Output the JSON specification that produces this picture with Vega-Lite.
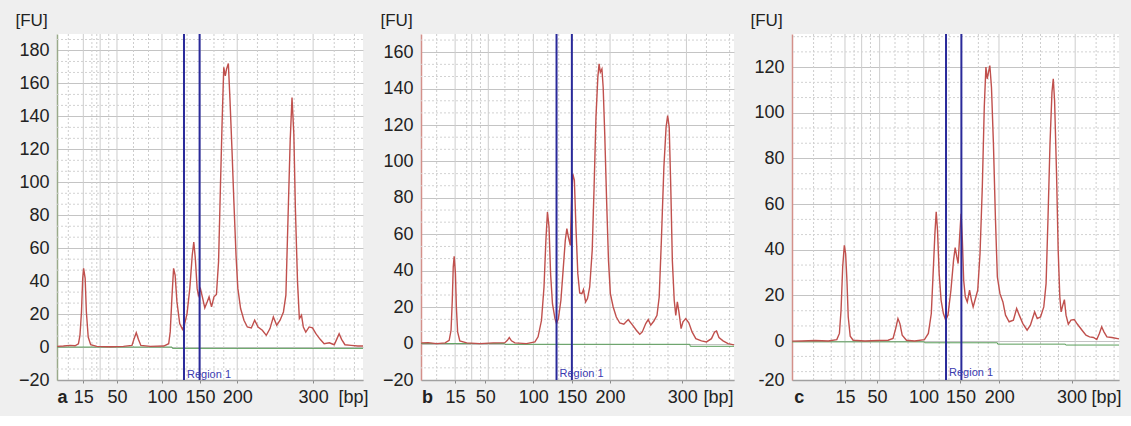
{
"$schema": "https://vega.github.io/schema/vega-lite/v6.json",
"background": "#efefef",
"padding": {"left": 15, "top": 11, "right": 12, "bottom": 10},
"bounds": "flush",
"spacing": 58,
"config": {
  "view": {"fill": "#ffffff", "stroke": null},
  "font": "Liberation Sans",
  "axis": {"labelFont": "Liberation Sans", "labelFontSize": 18, "labelColor": "#222222", "titleFont": "Liberation Sans", "labelOverlap": false, "labelFlush": false, "labelBound": false},
  "axisY": {"labelOverlap": false}
},
"datasets": {
  "ygrid": [{"fu":-13.33},{"fu":-6.67},{"fu":6.67},{"fu":13.33},{"fu":26.67},{"fu":33.33},{"fu":46.67},{"fu":53.33},{"fu":66.67},{"fu":73.33},{"fu":86.67},{"fu":93.33},{"fu":106.67},{"fu":113.33},{"fu":126.67},{"fu":133.33},{"fu":146.67},{"fu":153.33},{"fu":166.67},{"fu":173.33},{"fu":186.67}],
  "vgrid_a": [{"t":8.6,"s":"solid"},{"t":14.1,"s":"solid"},{"t":19.6,"s":"solid"},{"t":34.3,"s":"solid"},{"t":46.7,"s":"solid"},{"t":58.9,"s":"solid"},{"t":83.7,"s":"solid"},{"t":3.7,"s":"dot"},{"t":11.4,"s":"dot"},{"t":13.0,"s":"dot"},{"t":16.9,"s":"dot"},{"t":25.0,"s":"dot"},{"t":29.9,"s":"dot"},{"t":39.2,"s":"dot"},{"t":42.5,"s":"dot"},{"t":51.3,"s":"dot"},{"t":54.5,"s":"dot"},{"t":65.5,"s":"dot"},{"t":72.0,"s":"dot"},{"t":77.5,"s":"dot"},{"t":90.6,"s":"dot"},{"t":97.2,"s":"dot"}],
  "vgrid_b": [{"t":10.9,"s":"solid"},{"t":16.2,"s":"solid"},{"t":21.5,"s":"solid"},{"t":35.9,"s":"solid"},{"t":48.2,"s":"solid"},{"t":60.4,"s":"solid"},{"t":84.8,"s":"solid"},{"t":5.0,"s":"dot"},{"t":14.6,"s":"dot"},{"t":19.0,"s":"dot"},{"t":26.8,"s":"dot"},{"t":31.1,"s":"dot"},{"t":40.5,"s":"dot"},{"t":44.0,"s":"dot"},{"t":52.3,"s":"dot"},{"t":56.0,"s":"dot"},{"t":67.8,"s":"dot"},{"t":73.1,"s":"dot"},{"t":78.9,"s":"dot"},{"t":91.2,"s":"dot"},{"t":98.6,"s":"dot"}],
  "vgrid_c": [{"t":16.2,"s":"solid"},{"t":21.3,"s":"solid"},{"t":26.8,"s":"solid"},{"t":40.3,"s":"solid"},{"t":51.8,"s":"solid"},{"t":63.3,"s":"solid"},{"t":86.6,"s":"solid"},{"t":6.6,"s":"dot"},{"t":12.0,"s":"dot"},{"t":19.0,"s":"dot"},{"t":24.0,"s":"dot"},{"t":31.5,"s":"dot"},{"t":35.5,"s":"dot"},{"t":45.0,"s":"dot"},{"t":48.0,"s":"dot"},{"t":57.0,"s":"dot"},{"t":60.0,"s":"dot"},{"t":70.5,"s":"dot"},{"t":76.0,"s":"dot"},{"t":81.5,"s":"dot"},{"t":93.0,"s":"dot"},{"t":98.5,"s":"dot"}],
  "region_a": [{"t":41.5,"label":"Region 1"},{"t":46.6,"label":""}],
  "region_b": [{"t":43.3,"label":"Region 1"},{"t":48.2,"label":""}],
  "region_c": [{"t":47.1,"label":"Region 1"},{"t":51.8,"label":""}],
  "base_a": [{"t":0,"fu":0},{"t":37.6,"fu":0},{"t":37.7,"fu":-0.8},{"t":100,"fu":-0.8}],
  "base_b": [{"t":0,"fu":0},{"t":26.7,"fu":0},{"t":26.8,"fu":-0.4},{"t":85.9,"fu":-0.4},{"t":86.0,"fu":-1.5},{"t":100,"fu":-1.5}],
  "base_c": [{"t":0,"fu":-0.3},{"t":40.5,"fu":-0.3},{"t":40.6,"fu":-0.7},{"t":62.8,"fu":-0.7},{"t":62.9,"fu":-1.3},{"t":83.6,"fu":-1.3},{"t":83.7,"fu":-1.7},{"t":100,"fu":-1.7}],
  "trace_a": [{"t":0.1,"fu":0.4},{"t":2.1,"fu":0.6},{"t":4.3,"fu":1.0},{"t":5.9,"fu":0.8},{"t":7.0,"fu":2.0},{"t":7.5,"fu":7.1},{"t":8.0,"fu":21.3},{"t":8.4,"fu":41.7},{"t":8.7,"fu":47.8},{"t":9.2,"fu":41.7},{"t":9.6,"fu":21.3},{"t":10.2,"fu":6.1},{"t":11.0,"fu":1.4},{"t":13.0,"fu":0.4},{"t":17.4,"fu":0.2},{"t":21.7,"fu":0.4},{"t":24.5,"fu":1.0},{"t":25.2,"fu":5.1},{"t":25.9,"fu":8.7},{"t":26.6,"fu":4.7},{"t":27.4,"fu":1.0},{"t":30.5,"fu":0.4},{"t":34.9,"fu":0.6},{"t":36.5,"fu":2.0},{"t":37.0,"fu":9.2},{"t":37.6,"fu":31.5},{"t":38.1,"fu":47.8},{"t":38.6,"fu":43.7},{"t":39.2,"fu":27.4},{"t":40.1,"fu":14.2},{"t":41.0,"fu":10.8},{"t":41.6,"fu":13.2},{"t":42.5,"fu":20.3},{"t":43.4,"fu":35.6},{"t":44.2,"fu":55.9},{"t":44.7,"fu":63.7},{"t":45.2,"fu":53.9},{"t":45.8,"fu":35.6},{"t":46.2,"fu":31.5},{"t":46.9,"fu":35.2},{"t":47.5,"fu":30.5},{"t":48.3,"fu":23.8},{"t":49.1,"fu":27.5},{"t":49.7,"fu":30.5},{"t":50.5,"fu":24.4},{"t":51.3,"fu":30.5},{"t":52.1,"fu":31.9},{"t":52.8,"fu":51.9},{"t":53.4,"fu":96.6},{"t":54.0,"fu":139.3},{"t":54.5,"fu":169.8},{"t":55.0,"fu":164.6},{"t":55.4,"fu":168.7},{"t":56.0,"fu":172.1},{"t":56.5,"fu":151.4},{"t":57.2,"fu":118.9},{"t":57.8,"fu":88.4},{"t":58.5,"fu":55.9},{"t":59.1,"fu":35.6},{"t":60.0,"fu":23.4},{"t":61.1,"fu":16.3},{"t":62.2,"fu":12.2},{"t":63.5,"fu":11.6},{"t":64.6,"fu":16.3},{"t":65.7,"fu":12.2},{"t":67.1,"fu":10.2},{"t":68.4,"fu":7.1},{"t":69.6,"fu":11.2},{"t":70.7,"fu":18.3},{"t":71.8,"fu":13.2},{"t":72.9,"fu":16.3},{"t":74.0,"fu":21.3},{"t":74.8,"fu":31.5},{"t":75.5,"fu":78.3},{"t":76.2,"fu":125.0},{"t":76.8,"fu":151.4},{"t":77.4,"fu":129.1},{"t":77.9,"fu":84.4},{"t":78.6,"fu":39.7},{"t":79.2,"fu":17.3},{"t":79.9,"fu":19.3},{"t":80.5,"fu":12.2},{"t":81.3,"fu":9.1},{"t":82.4,"fu":12.2},{"t":83.5,"fu":11.6},{"t":84.6,"fu":8.1},{"t":86.0,"fu":4.7},{"t":87.3,"fu":2.0},{"t":89.0,"fu":2.6},{"t":90.6,"fu":1.4},{"t":91.5,"fu":5.1},{"t":92.2,"fu":8.1},{"t":93.0,"fu":4.7},{"t":94.1,"fu":1.4},{"t":96.1,"fu":1.0},{"t":98.3,"fu":0.6},{"t":100,"fu":0.6}],
  "trace_b": [{"t":0.1,"fu":0.4},{"t":2.3,"fu":0.5},{"t":5.0,"fu":0},{"t":7.7,"fu":0.4},{"t":9.0,"fu":1.8},{"t":9.6,"fu":7.3},{"t":10.0,"fu":23.8},{"t":10.3,"fu":42.0},{"t":10.6,"fu":47.9},{"t":11.0,"fu":38.4},{"t":11.3,"fu":20.1},{"t":11.7,"fu":6.4},{"t":12.4,"fu":1.5},{"t":14.6,"fu":0.4},{"t":18.8,"fu":0},{"t":23.1,"fu":0.4},{"t":26.8,"fu":0.5},{"t":27.6,"fu":1.8},{"t":28.2,"fu":3.3},{"t":28.9,"fu":1.5},{"t":30.0,"fu":0.4},{"t":33.7,"fu":0},{"t":36.4,"fu":0.9},{"t":37.4,"fu":3.7},{"t":38.5,"fu":12.8},{"t":39.3,"fu":31.1},{"t":39.9,"fu":56.7},{"t":40.4,"fu":72.2},{"t":40.9,"fu":64.0},{"t":41.4,"fu":38.4},{"t":42.0,"fu":21.9},{"t":42.8,"fu":13.7},{"t":43.3,"fu":11.0},{"t":43.9,"fu":13.7},{"t":44.7,"fu":23.8},{"t":45.4,"fu":40.2},{"t":46.1,"fu":56.7},{"t":46.6,"fu":63.1},{"t":47.1,"fu":58.5},{"t":47.7,"fu":53.9},{"t":48.1,"fu":78.6},{"t":48.5,"fu":93.2},{"t":49.0,"fu":89.6},{"t":49.5,"fu":64.0},{"t":50.1,"fu":38.4},{"t":50.7,"fu":27.8},{"t":51.4,"fu":27.4},{"t":51.9,"fu":29.6},{"t":52.6,"fu":22.9},{"t":53.2,"fu":24.7},{"t":53.9,"fu":31.1},{"t":54.7,"fu":51.2},{"t":55.3,"fu":85.9},{"t":55.9,"fu":124.3},{"t":56.5,"fu":146.3},{"t":56.9,"fu":153.6},{"t":57.3,"fu":149.0},{"t":57.8,"fu":150.8},{"t":58.2,"fu":140.8},{"t":58.7,"fu":115.2},{"t":59.3,"fu":78.6},{"t":59.9,"fu":45.7},{"t":60.5,"fu":27.4},{"t":61.4,"fu":20.1},{"t":62.4,"fu":14.6},{"t":63.5,"fu":11.3},{"t":64.8,"fu":10.6},{"t":66.2,"fu":13.2},{"t":67.6,"fu":10.1},{"t":68.8,"fu":7.3},{"t":69.9,"fu":5.1},{"t":70.7,"fu":6.4},{"t":71.8,"fu":11.0},{"t":72.6,"fu":13.2},{"t":73.4,"fu":10.1},{"t":74.4,"fu":12.4},{"t":75.4,"fu":15.5},{"t":76.1,"fu":25.6},{"t":76.8,"fu":56.7},{"t":77.6,"fu":96.9},{"t":78.3,"fu":118.8},{"t":78.8,"fu":125.2},{"t":79.3,"fu":118.8},{"t":79.8,"fu":85.9},{"t":80.3,"fu":45.7},{"t":80.9,"fu":23.8},{"t":81.4,"fu":15.5},{"t":81.9,"fu":22.9},{"t":82.4,"fu":17.4},{"t":83.1,"fu":8.2},{"t":83.7,"fu":11.9},{"t":84.6,"fu":13.7},{"t":85.6,"fu":11.3},{"t":86.6,"fu":6.4},{"t":87.8,"fu":2.7},{"t":89.6,"fu":1.5},{"t":91.2,"fu":0.9},{"t":92.8,"fu":2.7},{"t":93.8,"fu":6.4},{"t":94.4,"fu":6.9},{"t":95.2,"fu":3.3},{"t":96.5,"fu":1.5},{"t":98.1,"fu":0},{"t":100,"fu":-0.7}],
  "trace_c": [{"t":0.1,"fu":0},{"t":3.0,"fu":0.1},{"t":7.1,"fu":0.3},{"t":11.1,"fu":0.1},{"t":13.7,"fu":0.7},{"t":14.5,"fu":3.4},{"t":15.0,"fu":13.6},{"t":15.5,"fu":32.5},{"t":16.0,"fu":42.0},{"t":16.4,"fu":38.3},{"t":16.8,"fu":26.7},{"t":17.2,"fu":10.6},{"t":17.8,"fu":2.2},{"t":18.7,"fu":0.4},{"t":22.3,"fu":0.1},{"t":26.3,"fu":0.3},{"t":29.4,"fu":0.4},{"t":30.9,"fu":1.2},{"t":31.7,"fu":5.5},{"t":32.4,"fu":9.9},{"t":33.0,"fu":7.7},{"t":33.7,"fu":2.6},{"t":35.0,"fu":0.4},{"t":37.5,"fu":0.1},{"t":40.5,"fu":0.7},{"t":41.7,"fu":3.4},{"t":42.6,"fu":12.1},{"t":43.2,"fu":31.0},{"t":43.7,"fu":47.1},{"t":44.1,"fu":56.6},{"t":44.5,"fu":48.5},{"t":45.0,"fu":29.6},{"t":45.6,"fu":17.9},{"t":46.3,"fu":12.1},{"t":47.0,"fu":9.2},{"t":47.7,"fu":11.4},{"t":48.6,"fu":22.3},{"t":49.4,"fu":35.4},{"t":49.9,"fu":41.0},{"t":50.4,"fu":36.9},{"t":50.8,"fu":34.0},{"t":51.2,"fu":44.2},{"t":51.7,"fu":55.8},{"t":52.1,"fu":44.2},{"t":52.5,"fu":26.7},{"t":53.0,"fu":19.4},{"t":53.6,"fu":17.2},{"t":54.3,"fu":22.3},{"t":54.9,"fu":17.9},{"t":55.4,"fu":15.0},{"t":56.1,"fu":18.7},{"t":56.8,"fu":22.3},{"t":57.5,"fu":38.3},{"t":58.2,"fu":67.5},{"t":58.8,"fu":102.5},{"t":59.3,"fu":120.0},{"t":59.7,"fu":114.9},{"t":60.1,"fu":117.8},{"t":60.5,"fu":120.7},{"t":61.0,"fu":111.2},{"t":61.6,"fu":86.4},{"t":62.2,"fu":54.4},{"t":62.8,"fu":28.1},{"t":63.6,"fu":20.8},{"t":64.5,"fu":17.2},{"t":65.3,"fu":11.4},{"t":66.4,"fu":8.5},{"t":67.7,"fu":9.2},{"t":68.7,"fu":14.3},{"t":69.5,"fu":11.4},{"t":70.6,"fu":7.7},{"t":71.9,"fu":4.8},{"t":72.9,"fu":7.0},{"t":74.2,"fu":12.8},{"t":75.0,"fu":9.9},{"t":76.0,"fu":10.6},{"t":77.0,"fu":15.0},{"t":77.7,"fu":25.2},{"t":78.3,"fu":54.4},{"t":78.9,"fu":86.4},{"t":79.5,"fu":109.0},{"t":79.9,"fu":114.9},{"t":80.3,"fu":105.4},{"t":80.9,"fu":73.3},{"t":81.4,"fu":39.8},{"t":81.9,"fu":19.4},{"t":82.3,"fu":12.8},{"t":82.8,"fu":15.7},{"t":83.3,"fu":18.2},{"t":83.8,"fu":11.4},{"t":84.5,"fu":7.4},{"t":85.3,"fu":9.2},{"t":86.3,"fu":9.5},{"t":87.3,"fu":7.4},{"t":88.7,"fu":4.8},{"t":89.9,"fu":2.6},{"t":91.0,"fu":1.9},{"t":92.2,"fu":1.6},{"t":93.2,"fu":0.7},{"t":94.0,"fu":3.4},{"t":94.7,"fu":6.3},{"t":95.4,"fu":4.1},{"t":96.3,"fu":1.9},{"t":97.8,"fu":1.6},{"t":100,"fu":1.0}]
},
"hconcat": [
 {
  "width": 306, "height": 346,
  "encoding": {
    "x": {"field": "t", "type": "quantitative", "scale": {"domain": [0, 100], "nice": false, "zero": false},
      "axis": {"title": null, "grid": false, "values": [1.6, 8.6, 19.6, 34.3, 46.7, 58.9, 83.7, 96.7],
        "labelExpr": "datum.value < 5 ? 'a' : datum.value > 90 ? '[bp]' : datum.value < 12 ? '15' : datum.value < 25 ? '50' : datum.value < 40 ? '100' : datum.value < 52 ? '150' : datum.value < 70 ? '200' : '300'",
        "labelFontWeight": {"condition": {"test": "datum.value < 5", "value": "bold"}, "value": "normal"},
        "tickOpacity": {"condition": {"test": "datum.value < 5 || datum.value > 90", "value": 0}, "value": 1},
        "tickSize": 3, "tickColor": "#888888", "domainColor": "#a0a0a0", "domainWidth": 1.5, "labelPadding": 5}}
  },
  "layer": [
   {"data": {"name": "vgrid_a"}, "mark": {"type": "rule", "color": "#cdcdcd", "strokeWidth": 1},
    "encoding": {"strokeDash": {"field": "s", "type": "nominal", "scale": {"domain": ["solid", "dot"], "range": [[1, 0], [2, 2]]}, "legend": null}}},
   {"data": {"name": "ygrid"}, "transform": [{"filter": "datum.fu < 190"}], "mark": {"type": "rule", "color": "#d2d2d2", "strokeWidth": 1, "strokeDash": [2, 2]},
    "encoding": {"x": null,
      "y": {"field": "fu", "type": "quantitative", "scale": {"domain": [-20, 190], "nice": false, "zero": false},
      "axis": {"values": [-20, 0, 20, 40, 60, 80, 100, 120, 140, 160, 180], "grid": true, "gridColor": "#c4c4c4", "ticks": false, "labelOverlap": false,
        "domainColor": "#9aaa8a", "domainWidth": 1.5, "labelPadding": 8,
        "title": "[FU]", "titleAngle": 0, "titleAlign": "left", "titleBaseline": "middle", "titleX": -42, "titleY": -14,
        "titleFontSize": 17, "titleFontWeight": "normal", "titleColor": "#222222"}}}},
   {"data": {"name": "base_a"}, "mark": {"type": "line", "color": "#5a9e5a", "strokeWidth": 1},
    "encoding": {"y": {"field": "fu", "type": "quantitative", "scale": {"domain": [-20, 190], "nice": false, "zero": false},
      "axis": {"values": [-20, 0, 20, 40, 60, 80, 100, 120, 140, 160, 180], "grid": true, "gridColor": "#c4c4c4", "ticks": false, "labelOverlap": false,
        "domainColor": "#9aaa8a", "domainWidth": 1.5, "labelPadding": 8,
        "title": "[FU]", "titleAngle": 0, "titleAlign": "left", "titleBaseline": "middle", "titleX": -42, "titleY": -14,
        "titleFontSize": 17, "titleFontWeight": "normal", "titleColor": "#222222"}}}},
   {"data": {"name": "trace_a"}, "mark": {"type": "line", "color": "#c0504d", "strokeWidth": 1.4},
    "encoding": {"y": {"field": "fu", "type": "quantitative", "scale": {"domain": [-20, 190], "nice": false, "zero": false},
      "axis": {"values": [-20, 0, 20, 40, 60, 80, 100, 120, 140, 160, 180], "grid": true, "gridColor": "#c4c4c4", "ticks": false, "labelOverlap": false,
        "domainColor": "#9aaa8a", "domainWidth": 1.5, "labelPadding": 8,
        "title": "[FU]", "titleAngle": 0, "titleAlign": "left", "titleBaseline": "middle", "titleX": -42, "titleY": -14,
        "titleFontSize": 17, "titleFontWeight": "normal", "titleColor": "#222222"}}}},
   {"data": {"name": "region_a"}, "mark": {"type": "rule", "color": "#2a2a9a", "strokeWidth": 2}, "encoding": {}},
   {"data": {"name": "region_a"}, "mark": {"type": "text", "align": "left", "baseline": "middle", "dx": 3, "fontSize": 11, "color": "#3b3bb0"},
    "encoding": {"text": {"field": "label", "type": "nominal"}, "y": {"datum": -17, "type": "quantitative", "scale": {"domain": [-20, 190], "nice": false, "zero": false},
      "axis": {"values": [-20, 0, 20, 40, 60, 80, 100, 120, 140, 160, 180], "grid": true, "gridColor": "#c4c4c4", "ticks": false, "labelOverlap": false,
        "domainColor": "#9aaa8a", "domainWidth": 1.5, "labelPadding": 8,
        "title": "[FU]", "titleAngle": 0, "titleAlign": "left", "titleBaseline": "middle", "titleX": -42, "titleY": -14,
        "titleFontSize": 17, "titleFontWeight": "normal", "titleColor": "#222222"}}}}
  ]
 },
 {
  "width": 313, "height": 346,
  "encoding": {
    "x": {"field": "t", "type": "quantitative", "scale": {"domain": [0, 100], "nice": false, "zero": false},
      "axis": {"title": null, "grid": false, "values": [1.9, 10.9, 20.5, 35.9, 48.2, 60.4, 83.5, 94.9],
        "labelExpr": "datum.value < 5 ? 'b' : datum.value > 90 ? '[bp]' : datum.value < 15 ? '15' : datum.value < 28 ? '50' : datum.value < 42 ? '100' : datum.value < 54 ? '150' : datum.value < 72 ? '200' : '300'",
        "labelFontWeight": {"condition": {"test": "datum.value < 5", "value": "bold"}, "value": "normal"},
        "tickOpacity": {"condition": {"test": "datum.value < 5 || datum.value > 90", "value": 0}, "value": 1},
        "tickSize": 3, "tickColor": "#888888", "domainColor": "#a0a0a0", "domainWidth": 1.5, "labelPadding": 5}}
  },
  "layer": [
   {"data": {"name": "vgrid_b"}, "mark": {"type": "rule", "color": "#cdcdcd", "strokeWidth": 1},
    "encoding": {"strokeDash": {"field": "s", "type": "nominal", "scale": {"domain": ["solid", "dot"], "range": [[1, 0], [2, 2]]}, "legend": null}}},
   {"data": {"name": "ygrid"}, "transform": [{"filter": "datum.fu < 170"}], "mark": {"type": "rule", "color": "#d2d2d2", "strokeWidth": 1, "strokeDash": [2, 2]},
    "encoding": {"x": null,
      "y": {"field": "fu", "type": "quantitative", "scale": {"domain": [-20, 170], "nice": false, "zero": false},
      "axis": {"values": [-20, 0, 20, 40, 60, 80, 100, 120, 140, 160], "grid": true, "gridColor": "#c4c4c4", "ticks": false, "labelOverlap": false,
        "domainColor": "#d4908a", "domainWidth": 1.5, "labelPadding": 8,
        "title": "[FU]", "titleAngle": 0, "titleAlign": "left", "titleBaseline": "middle", "titleX": -41, "titleY": -14,
        "titleFontSize": 17, "titleFontWeight": "normal", "titleColor": "#222222"}}}},
   {"data": {"name": "base_b"}, "mark": {"type": "line", "color": "#5a9e5a", "strokeWidth": 1},
    "encoding": {"y": {"field": "fu", "type": "quantitative", "scale": {"domain": [-20, 170], "nice": false, "zero": false},
      "axis": {"values": [-20, 0, 20, 40, 60, 80, 100, 120, 140, 160], "grid": true, "gridColor": "#c4c4c4", "ticks": false, "labelOverlap": false,
        "domainColor": "#d4908a", "domainWidth": 1.5, "labelPadding": 8,
        "title": "[FU]", "titleAngle": 0, "titleAlign": "left", "titleBaseline": "middle", "titleX": -41, "titleY": -14,
        "titleFontSize": 17, "titleFontWeight": "normal", "titleColor": "#222222"}}}},
   {"data": {"name": "trace_b"}, "mark": {"type": "line", "color": "#c0504d", "strokeWidth": 1.4},
    "encoding": {"y": {"field": "fu", "type": "quantitative", "scale": {"domain": [-20, 170], "nice": false, "zero": false},
      "axis": {"values": [-20, 0, 20, 40, 60, 80, 100, 120, 140, 160], "grid": true, "gridColor": "#c4c4c4", "ticks": false, "labelOverlap": false,
        "domainColor": "#d4908a", "domainWidth": 1.5, "labelPadding": 8,
        "title": "[FU]", "titleAngle": 0, "titleAlign": "left", "titleBaseline": "middle", "titleX": -41, "titleY": -14,
        "titleFontSize": 17, "titleFontWeight": "normal", "titleColor": "#222222"}}}},
   {"data": {"name": "region_b"}, "mark": {"type": "rule", "color": "#2a2a9a", "strokeWidth": 2}, "encoding": {}},
   {"data": {"name": "region_b"}, "mark": {"type": "text", "align": "left", "baseline": "middle", "dx": 3, "fontSize": 11, "color": "#3b3bb0"},
    "encoding": {"text": {"field": "label", "type": "nominal"}, "y": {"datum": -16.5, "type": "quantitative", "scale": {"domain": [-20, 170], "nice": false, "zero": false},
      "axis": {"values": [-20, 0, 20, 40, 60, 80, 100, 120, 140, 160], "grid": true, "gridColor": "#c4c4c4", "ticks": false, "labelOverlap": false,
        "domainColor": "#d4908a", "domainWidth": 1.5, "labelPadding": 8,
        "title": "[FU]", "titleAngle": 0, "titleAlign": "left", "titleBaseline": "middle", "titleX": -41, "titleY": -14,
        "titleFontSize": 17, "titleFontWeight": "normal", "titleColor": "#222222"}}}}
  ]
 },
 {
  "width": 327, "height": 346,
  "encoding": {
    "x": {"field": "t", "type": "quantitative", "scale": {"domain": [0, 100], "nice": false, "zero": false},
      "axis": {"title": null, "grid": false, "values": [2.1, 16.2, 26.0, 40.2, 51.5, 63.4, 85.5, 96.0],
        "labelExpr": "datum.value < 5 ? 'c' : datum.value > 90 ? '[bp]' : datum.value < 20 ? '15' : datum.value < 33 ? '50' : datum.value < 46 ? '100' : datum.value < 57 ? '150' : datum.value < 75 ? '200' : '300'",
        "labelFontWeight": {"condition": {"test": "datum.value < 5", "value": "bold"}, "value": "normal"},
        "tickOpacity": {"condition": {"test": "datum.value < 5 || datum.value > 90", "value": 0}, "value": 1},
        "tickSize": 3, "tickColor": "#888888", "domainColor": "#a0a0a0", "domainWidth": 1.5, "labelPadding": 5}}
  },
  "layer": [
   {"data": {"name": "vgrid_c"}, "mark": {"type": "rule", "color": "#cdcdcd", "strokeWidth": 1},
    "encoding": {"strokeDash": {"field": "s", "type": "nominal", "scale": {"domain": ["solid", "dot"], "range": [[1, 0], [2, 2]]}, "legend": null}}},
   {"data": {"name": "ygrid"}, "transform": [{"filter": "datum.fu < 134.5 && datum.fu > -17"}], "mark": {"type": "rule", "color": "#d2d2d2", "strokeWidth": 1, "strokeDash": [2, 2]},
    "encoding": {"x": null,
      "y": {"field": "fu", "type": "quantitative", "scale": {"domain": [-17, 134.5], "nice": false, "zero": false},
      "axis": {"values": [-17, 0, 20, 40, 60, 80, 100, 120], "labelExpr": "datum.value < -10 ? '-20' : datum.label", "grid": true, "gridColor": "#c4c4c4", "ticks": false, "labelOverlap": false,
        "domainColor": "#d4908a", "domainWidth": 1.5, "labelPadding": 8,
        "title": "[FU]", "titleAngle": 0, "titleAlign": "left", "titleBaseline": "middle", "titleX": -42, "titleY": -14,
        "titleFontSize": 17, "titleFontWeight": "normal", "titleColor": "#222222"}}}},
   {"data": {"name": "base_c"}, "mark": {"type": "line", "color": "#5a9e5a", "strokeWidth": 1},
    "encoding": {"y": {"field": "fu", "type": "quantitative", "scale": {"domain": [-17, 134.5], "nice": false, "zero": false},
      "axis": {"values": [-17, 0, 20, 40, 60, 80, 100, 120], "labelExpr": "datum.value < -10 ? '-20' : datum.label", "grid": true, "gridColor": "#c4c4c4", "ticks": false, "labelOverlap": false,
        "domainColor": "#d4908a", "domainWidth": 1.5, "labelPadding": 8,
        "title": "[FU]", "titleAngle": 0, "titleAlign": "left", "titleBaseline": "middle", "titleX": -42, "titleY": -14,
        "titleFontSize": 17, "titleFontWeight": "normal", "titleColor": "#222222"}}}},
   {"data": {"name": "trace_c"}, "mark": {"type": "line", "color": "#c0504d", "strokeWidth": 1.4},
    "encoding": {"y": {"field": "fu", "type": "quantitative", "scale": {"domain": [-17, 134.5], "nice": false, "zero": false},
      "axis": {"values": [-17, 0, 20, 40, 60, 80, 100, 120], "labelExpr": "datum.value < -10 ? '-20' : datum.label", "grid": true, "gridColor": "#c4c4c4", "ticks": false, "labelOverlap": false,
        "domainColor": "#d4908a", "domainWidth": 1.5, "labelPadding": 8,
        "title": "[FU]", "titleAngle": 0, "titleAlign": "left", "titleBaseline": "middle", "titleX": -42, "titleY": -14,
        "titleFontSize": 17, "titleFontWeight": "normal", "titleColor": "#222222"}}}},
   {"data": {"name": "region_c"}, "mark": {"type": "rule", "color": "#2a2a9a", "strokeWidth": 2}, "encoding": {}},
   {"data": {"name": "region_c"}, "mark": {"type": "text", "align": "left", "baseline": "middle", "dx": 3, "fontSize": 11, "color": "#3b3bb0"},
    "encoding": {"text": {"field": "label", "type": "nominal"}, "y": {"datum": -14, "type": "quantitative", "scale": {"domain": [-17, 134.5], "nice": false, "zero": false},
      "axis": {"values": [-17, 0, 20, 40, 60, 80, 100, 120], "labelExpr": "datum.value < -10 ? '-20' : datum.label", "grid": true, "gridColor": "#c4c4c4", "ticks": false, "labelOverlap": false,
        "domainColor": "#d4908a", "domainWidth": 1.5, "labelPadding": 8,
        "title": "[FU]", "titleAngle": 0, "titleAlign": "left", "titleBaseline": "middle", "titleX": -42, "titleY": -14,
        "titleFontSize": 17, "titleFontWeight": "normal", "titleColor": "#222222"}}}}
  ]
 }
]
}
